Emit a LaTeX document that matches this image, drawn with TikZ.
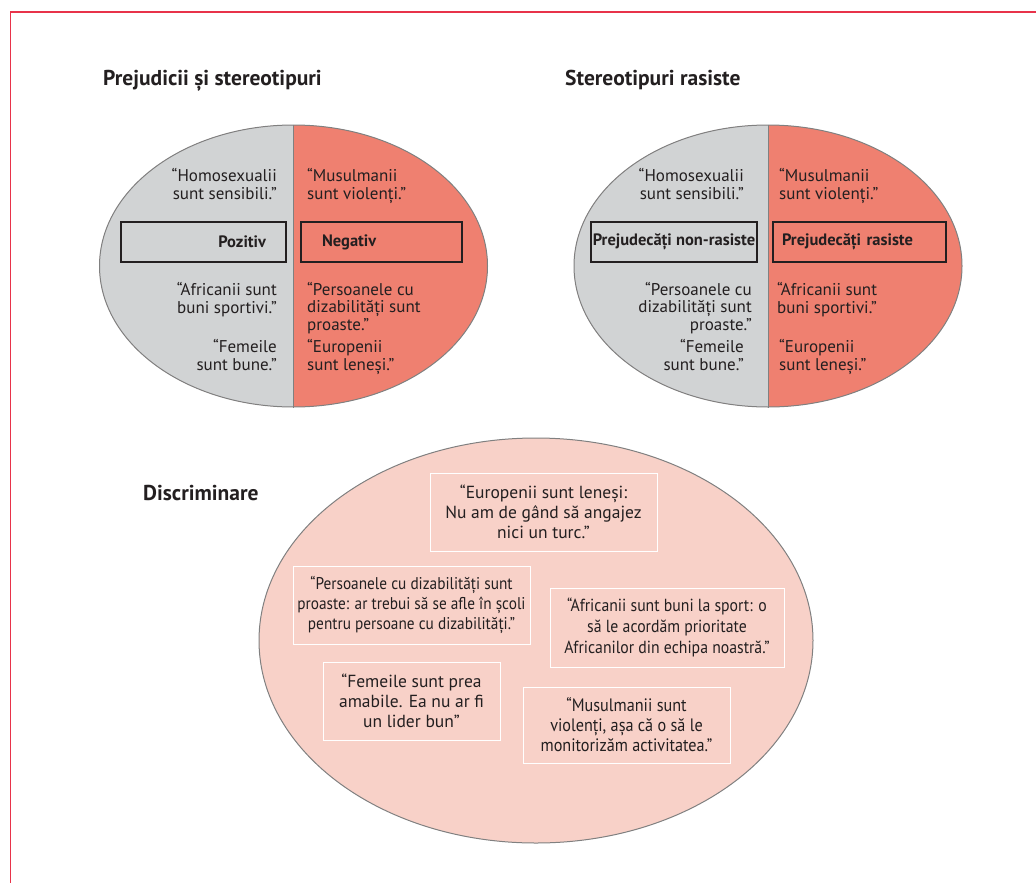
\documentclass[tikz,border=0pt]{standalone}
\usepackage{fontspec}
\setmainfont{PT Sans}
\newfontfamily\narrowfont{PT Sans}[FakeStretch=0.9]
\usepackage{tikz}
\usetikzlibrary{shapes.geometric}

\definecolor{framered}{RGB}{232,51,74}
\definecolor{greyhalf}{RGB}{209,211,212}
\definecolor{redhalf}{RGB}{239,128,112}
\definecolor{pinkfill}{RGB}{248,209,200}
\definecolor{rimgrey}{RGB}{128,128,128}
\definecolor{inkdark}{RGB}{35,31,32}

\begin{document}
\begin{tikzpicture}[x=1pt, y=-1pt, text=inkdark,
halfellipse/.style={ellipse, draw=rimgrey, line width=1pt, fill=redhalf, inner sep=0pt, minimum width=388pt, minimum height=282pt,
  path picture={\fill[greyhalf] (path picture bounding box.north west) rectangle (path picture bounding box.south);}},
catbox/.style={rectangle, draw=inkdark, line width=1.2pt, minimum height=40pt, inner ysep=0pt, font=\fontsize{16.5}{18}\selectfont\bfseries},
quoteright/.style={align=right, inner sep=0pt, anchor=base east, font=\fontsize{17}{17.5}\selectfont},
quoteleft/.style={align=left, inner sep=0pt, anchor=base west, font=\fontsize{17}{17.5}\selectfont},
headline/.style={inner sep=0pt, anchor=base west, font=\fontsize{21.5}{24}\selectfont\bfseries},
discbox/.style={rectangle, draw=white, line width=1pt, align=center, inner sep=0pt, font=\fontsize{17.5}{20}\selectfont},
]
\useasboundingbox (0,0) rectangle (1036,883);
%Frame
\draw[framered, line width=1.5pt] (10.5,883) -- (10.5,12) -- (1036,12);

%Nodes
\node[headline] (titleprej) at (103,85) {Prejudicii și stereotipuri};
\node[headline] (titlerace) at (565,85) {Stereotipuri rasiste};
\node[headline] (titledisc) at (143,500) {Discriminare};

\node[halfellipse] (prejell) at (293.5,266) {};
\node[halfellipse] (raceell) at (768,266) {};
\node[ellipse, draw=rimgrey, line width=1pt, fill=pinkfill, inner sep=0pt, minimum width=554pt, minimum height=405pt] (discell) at (536,640.5) {};

\node[catbox, minimum width=165pt, text width=125pt, align=right] (pozitiv) at (203.5,242) {Pozitiv};
\node[catbox, minimum width=161pt, text width=119pt, align=left] (negativ) at (381.5,242) {Negativ};
\node[catbox, minimum width=166pt, inner xsep=1pt] (nonrasist) at (674,242) {Prejudecăți non-rasiste};
\node[catbox, minimum width=173pt, text width=155pt, align=left] (rasist) at (859.5,242) {Prejudecăți rasiste};

\node[quoteright] (homoA) at (277,199) {“Homosexualii\\sunt sensibili.”};
\node[quoteright] (afrA) at (277,313) {“Africanii sunt\\buni sportivi.”};
\node[quoteright] (femA) at (277,370) {“Femeile\\sunt bune.”};
\node[quoteleft] (musA) at (307,199) {“Musulmanii\\sunt violenți.”};
\node[quoteleft] (persA) at (307,330) {“Persoanele cu\\dizabilități sunt\\proaste.”};
\node[quoteleft] (euroA) at (307,370) {“Europenii\\sunt leneși.”};

\node[quoteright] (homoB) at (744,199) {“Homosexualii\\sunt sensibili.”};
\node[quoteright] (persB) at (752,330) {“Persoanele cu\\dizabilități sunt\\proaste.”};
\node[quoteright] (femB) at (744,370) {“Femeile\\sunt bune.”};
\node[quoteleft] (musB) at (779,199) {“Musulmanii\\sunt violenți.”};
\node[quoteleft] (afrB) at (777,313) {“Africanii sunt\\buni sportivi.”};
\node[quoteleft] (euroB) at (779,370) {“Europenii\\sunt leneși.”};

\node[discbox, minimum width=227pt, minimum height=78pt] (euroC) at (543.5,512) {“Europenii sunt leneși:\\Nu am de gând să angajez\\nici un turc.”};
\node[discbox, minimum width=237pt, minimum height=78pt, font=\fontsize{17}{20}\narrowfont] (persC) at (411.5,605) {“Persoanele cu dizabilități sunt\\proaste: ar trebui să se afle în școli\\pentru persoane cu dizabilități.”};
\node[discbox, minimum width=234pt, minimum height=79pt, font=\fontsize{17.5}{21}\narrowfont] (afrC) at (667,627.5) {“Africanii sunt buni la sport: o\\să le acordăm prioritate\\Africanilor din echipa noastră.”};
\node[discbox, minimum width=177pt, minimum height=78pt] (femC) at (411.5,701) {“Femeile sunt prea\\amabile. Ea nu ar fi\\un lider bun”};
\node[discbox, minimum width=207pt, minimum height=76pt, font=\fontsize{18}{20}\narrowfont] (musC) at (626.5,725) {“Musulmanii sunt\\violenți, așa că o să le\\monitorizăm activitatea.”};

%Lines
\draw[rimgrey, line width=1pt] (prejell.north) -- (prejell.south);
\draw[rimgrey, line width=1pt] (raceell.north) -- (raceell.south);

\end{tikzpicture}
\end{document}
